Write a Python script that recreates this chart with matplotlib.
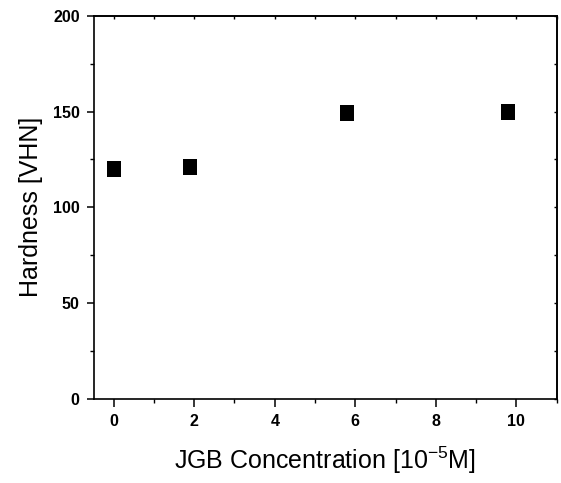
import matplotlib
matplotlib.use("Agg")
import matplotlib.pyplot as plt
from matplotlib.ticker import MultipleLocator

plt.rcParams['font.family'] = ['Liberation Sans', 'DejaVu Sans']

# data
conc = [0.0, 1.9, 5.8, 9.8]
hardness = [120, 121, 149, 150]

x_ticks = [0, 2, 4, 6, 8, 10]
y_ticks = [0, 50, 100, 150, 200]

fig = plt.figure(figsize=(5.61, 4.83), dpi=100)
ax = fig.add_axes([0.1667, 0.174, 0.8256, 0.7935])

# slightly tall square marker
box = [(-0.88, -1), (0.88, -1), (0.88, 1), (-0.88, 1), (-0.88, -1)]
ax.plot(conc, hardness, linestyle='none', marker=box, markersize=12.2,
        color='black', markeredgewidth=0)

ax.set_xlim(-0.5, 11)
ax.set_ylim(0, 200)
ax.set_xticks(x_ticks)
ax.set_yticks(y_ticks)
ax.xaxis.set_minor_locator(MultipleLocator(1))
ax.yaxis.set_minor_locator(MultipleLocator(25))

for s in ax.spines.values():
    s.set_linewidth(1.2)

ax.tick_params(which='major', direction='out', length=5, width=1.1,
               labelsize=11.5, pad=5)
ax.tick_params(which='minor', direction='out', length=3, width=1.0)
ax.tick_params(axis='x', which='major', length=6)
for lbl in ax.get_xticklabels() + ax.get_yticklabels():
    lbl.set_fontweight('bold')

# short inward ticks on the top and right edges
top = ax.secondary_xaxis('top')
top.set_xticks(x_ticks)
top.xaxis.set_minor_locator(MultipleLocator(1))
top.tick_params(which='both', direction='in', length=2.5, width=1.0, labeltop=False)
right = ax.secondary_yaxis('right')
right.set_yticks(y_ticks)
right.yaxis.set_minor_locator(MultipleLocator(25))
right.tick_params(which='both', direction='in', length=2.5, width=1.0, labelright=False)
for sec in (top, right):
    for s in sec.spines.values():
        s.set_linewidth(1.2)

ax.set_xlabel(r'JGB Concentration [10$^{\mathregular{-5}}$M]', fontsize=18, labelpad=11)
ax.set_ylabel('Hardness [VHN]', fontsize=18, labelpad=7)

fig.savefig('out.png', dpi=100)
